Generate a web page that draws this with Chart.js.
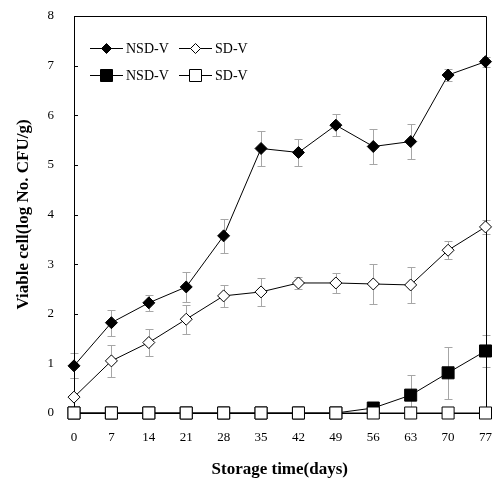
<!DOCTYPE html>
<html>
<head>
<meta charset="utf-8">
<script src="https://cdn.jsdelivr.net/npm/chart.js@4.4.1/dist/chart.umd.min.js"></script>
<style>
html,body{margin:0;padding:0;background:#fff;}
#wrap{width:495px;height:485px;}
</style>
</head>
<body>
<div id="wrap"><canvas id="c" width="495" height="485"></canvas></div>
<script>
const days = [0, 7, 14, 21, 28, 35, 42, 49, 56, 63, 70, 77];
const yTicks = [0, 1, 2, 3, 4, 5, 6, 7, 8];
const seriesLabels = ['NSD-V', 'SD-V', 'NSD-V', 'SD-V'];

const nsdDiamond = [0.95, 1.82, 2.22, 2.54, 3.57, 5.33, 5.25, 5.80, 5.37, 5.47, 6.81, 7.08];
const nsdDiamondErr = [0.25, 0.26, 0.16, 0.3, 0.34, 0.36, 0.27, 0.22, 0.35, 0.36, 0.12, 0.1];
const sdDiamond = [0.32, 1.05, 1.42, 1.89, 2.36, 2.44, 2.62, 2.62, 2.6, 2.58, 3.28, 3.75];
const sdDiamondErr = [0.38, 0.32, 0.28, 0.29, 0.22, 0.28, 0.13, 0.2, 0.4, 0.37, 0.18, 0.14];
const nsdSquare = [0, 0, 0, 0, 0, 0, 0, 0, 0.1, 0.36, 0.81, 1.25];
const nsdSquareErr = [0, 0, 0, 0, 0, 0, 0, 0, 0.05, 0.4, 0.53, 0.33];
const sdSquare = [0, 0, 0, 0, 0, 0, 0, 0, 0, 0, 0, 0];
const sdSquareErr = [0, 0, 0, 0, 0, 0, 0, 0, 0, 0, 0, 0];

const SERIF = '"Liberation Serif", "Times New Roman", serif';

function pts(vals){ return days.map((d,i)=>({x:d, y:vals[i]})); }

const errs = [nsdDiamondErr, sdDiamondErr, nsdSquareErr, sdSquareErr];

const errorBarPlugin = {
  id: 'errorBars',
  beforeDatasetsDraw(chart){
    const ctx = chart.ctx;
    const xs = chart.scales.x, ys = chart.scales.y;
    ctx.save();
    ctx.strokeStyle = '#a6a6a6';
    ctx.lineWidth = 1;
    chart.data.datasets.forEach((ds, di) => {
      const e = errs[di];
      ds.data.forEach((p, i) => {
        if (!e[i]) return;
        const x = Math.round(xs.getPixelForValue(p.x)) + 0.5;
        const yt = Math.round(ys.getPixelForValue(p.y + e[i])) + 0.5;
        const yb = Math.round(ys.getPixelForValue(Math.max(0, p.y - e[i]))) + 0.5;
        ctx.beginPath();
        ctx.moveTo(x, yt); ctx.lineTo(x, yb);
        ctx.moveTo(x - 4, yt); ctx.lineTo(x + 4, yt);
        ctx.moveTo(x - 4, yb); ctx.lineTo(x + 4, yb);
        ctx.stroke();
      });
    });
    ctx.restore();
  }
};

const framePlugin = {
  id: 'frame',
  beforeDatasetsDraw(chart){
    const {ctx, chartArea: a} = chart;
    const ys = chart.scales.y;
    ctx.save();
    ctx.strokeStyle = '#000';
    ctx.lineWidth = 1;
    ctx.beginPath();
    ctx.moveTo(Math.round(a.left)+0.5, Math.round(a.bottom)+0.5);
    ctx.lineTo(Math.round(a.left)+0.5, Math.round(a.top)+0.5);
    ctx.lineTo(Math.round(a.right)+0.5, Math.round(a.top)+0.5);
    ctx.lineTo(Math.round(a.right)+0.5, Math.round(a.bottom)+0.5);
    ctx.lineTo(Math.round(a.left)+0.5, Math.round(a.bottom)+0.5);
    ctx.stroke();
    yTicks.forEach(v => {
      const y = Math.round(ys.getPixelForValue(v)) + 0.5;
      ctx.beginPath();
      ctx.moveTo(a.left, y); ctx.lineTo(a.left + 4, y);
      ctx.stroke();
    });
    ctx.restore();
  }
};

const legendPlugin = {
  id: 'customLegend',
  afterDraw(chart){
    const ctx = chart.ctx;
    const a = chart.chartArea;
    const rows = [a.top + 32, a.top + 59];
    const cols = [a.left + 16, a.left + 105];
    ctx.save();
    ctx.font = '14px ' + SERIF;
    ctx.textBaseline = 'middle';
    chart.data.datasets.forEach((ds, i) => {
      const x0 = cols[i % 2], y = rows[Math.floor(i / 2)];
      ctx.strokeStyle = '#000';
      ctx.lineWidth = 1;
      ctx.beginPath();
      ctx.moveTo(x0, y + 0.5); ctx.lineTo(x0 + 33, y + 0.5);
      ctx.stroke();
      ctx.fillStyle = ds.pointBackgroundColor;
      ctx.beginPath();
      const r = ds.legendRadius;
      if (ds.pointStyle === 'rectRot') {
        ctx.moveTo(x0 + 16.5, y + 0.5 - r);
        ctx.lineTo(x0 + 16.5 + r, y + 0.5);
        ctx.lineTo(x0 + 16.5, y + 0.5 + r);
        ctx.lineTo(x0 + 16.5 - r, y + 0.5);
        ctx.closePath();
      } else {
        ctx.rect(x0 + 16.5 - r, y + 0.5 - r, 2 * r, 2 * r);
      }
      ctx.fill();
      ctx.stroke();
      ctx.fillStyle = '#000';
      ctx.fillText(ds.label, x0 + 36, y + 1);
    });
    ctx.restore();
  }
};

const datasets = [
  {label: seriesLabels[0], data: pts(nsdDiamond), pointStyle: 'rectRot', pointRadius: 6, legendRadius: 5,
   pointBackgroundColor: '#000', order: 3},
  {label: seriesLabels[1], data: pts(sdDiamond), pointStyle: 'rectRot', pointRadius: 6, legendRadius: 5,
   pointBackgroundColor: '#fff', order: 2},
  {label: seriesLabels[2], data: pts(nsdSquare), pointStyle: 'rect', pointRadius: 8.5, legendRadius: 6,
   pointBackgroundColor: '#000', order: 1},
  {label: seriesLabels[3], data: pts(sdSquare), pointStyle: 'rect', pointRadius: 8.5, legendRadius: 6,
   pointBackgroundColor: '#fff', order: 0}
].map(d => Object.assign({
  borderColor: '#000', borderWidth: 1, pointBorderColor: '#000', pointBorderWidth: 1,
  pointHoverRadius: d.pointRadius, showLine: true, tension: 0, clip: false, fill: false
}, d));

new Chart(document.getElementById('c'), {
  type: 'line',
  data: {datasets},
  plugins: [errorBarPlugin, framePlugin, legendPlugin],
  options: {
    responsive: false,
    animation: false,
    events: [],
    layout: {padding: {left: 0, right: 7, top: 16, bottom: 0}},
    plugins: {legend: {display: false}, tooltip: {enabled: false}},
    scales: {
      x: {
        type: 'linear', min: 0, max: 77,
        afterBuildTicks(s){ s.ticks = days.map(v => ({value: v})); },
        afterFit(s){ s.height = 72; s.paddingLeft = 0; s.paddingRight = 0; },
        grid: {display: false, drawTicks: false},
        border: {display: false},
        ticks: {color: '#000', padding: 17, font: {family: SERIF, size: 13}, maxRotation: 0, autoSkip: false},
        title: {display: true, text: 'Storage time(days)', color: '#000',
                font: {family: SERIF, size: 17, weight: 'bold'}, padding: {top: 0, bottom: 5}}
      },
      y: {
        min: 0, max: 8,
        afterBuildTicks(s){ s.ticks = yTicks.map(v => ({value: v})); },
        afterFit(s){ s.width = 74; s.paddingTop = 0; s.paddingBottom = 0; },
        grid: {display: false, drawTicks: false},
        border: {display: false},
        ticks: {color: '#000', padding: 20, font: {family: SERIF, size: 13}},
        title: {display: true, text: 'Viable cell(log No. CFU/g)', color: '#000',
                font: {family: SERIF, size: 17, weight: 'bold'}, padding: {top: 13, bottom: 0}}
      }
    }
  }
});
</script>
</body>
</html>
